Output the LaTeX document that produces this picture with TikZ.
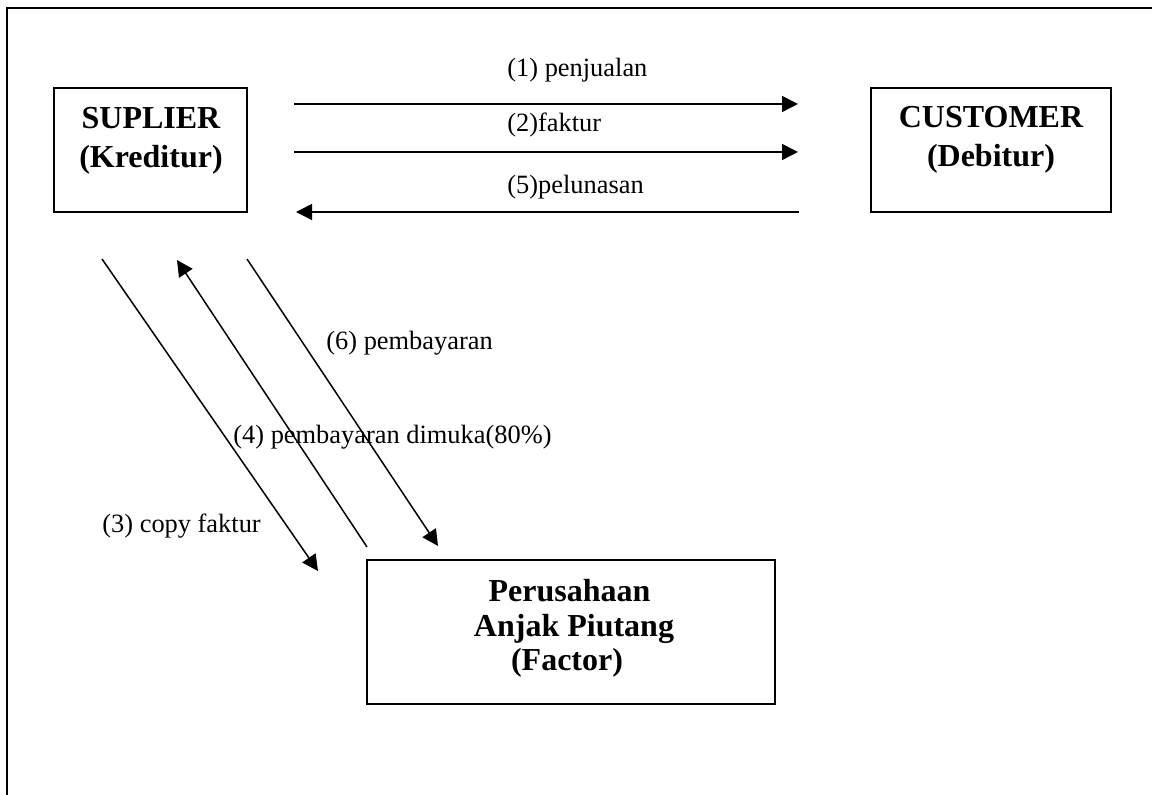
\documentclass[tikz,border=0pt]{standalone}
\usepackage{fontspec}
\setmainfont{Liberation Serif}
\usetikzlibrary{arrows.meta}
\begin{document}
\begin{tikzpicture}[x=0.5pt,y=-0.5pt,
  ebox/.style={draw,line width=1.2pt,inner sep=0pt,outer sep=0pt,rectangle},
  hd/.style={font=\fontsize{16}{19}\selectfont\bfseries,inner sep=0pt,anchor=base},
  lbl/.style={font=\fontsize{13.2}{16}\selectfont,inner sep=0pt,anchor=base west},
  arr/.style={line width=0.75pt,-{Triangle[length=8pt,width=8pt]}}]
\useasboundingbox (0,0) rectangle (1152,795);
% page frame (left and top edges)
\draw[line width=1.2pt] (7,795) -- (7,8) -- (1152,8);
% boxes
\node[ebox,minimum width=96.5pt,minimum height=62pt] (sup) at (150.5,150) {};
\node[ebox,minimum width=120pt,minimum height=62pt] (cus) at (991,150) {};
\node[ebox,minimum width=204pt,minimum height=72pt] (fac) at (571,632) {};
% box texts
\node[hd] (supA) at (151,129) {SUPLIER};
\node[hd] (supB) at (151,168) {(Kreditur)};
\node[hd] (cusA) at (991,128) {CUSTOMER};
\node[hd] (cusB) at (991,167) {(Debitur)};
\node[hd] (facA) at (569.5,602) {Perusahaan};
\node[hd] (facB) at (574,637) {Anjak Piutang};
\node[hd] (facC) at (567,671) {(Factor)};
% arrow end points
\coordinate (h1s) at (294,104); \coordinate (h1e) at (798,104);
\coordinate (h2s) at (294,152); \coordinate (h2e) at (798,152);
\coordinate (h5s) at (799,212); \coordinate (h5e) at (296,212);
\coordinate (d3s) at (102,259); \coordinate (d3e) at (318,571);
\coordinate (d4s) at (367,547); \coordinate (d4e) at (177,260);
\coordinate (d6s) at (247,259); \coordinate (d6e) at (438,546);
% arrows
\draw[arr] (h1s) -- (h1e);
\draw[arr] (h2s) -- (h2e);
\draw[arr] (h5s) -- (h5e);
\draw[arr] (d3s) -- (d3e);
\draw[arr] (d4s) -- (d4e);
\draw[arr] (d6s) -- (d6e);
% labels
\node[lbl] (l1) at (507,77) {(1) penjualan};
\node[lbl] (l2) at (507,132) {(2)faktur};
\node[lbl] (l5) at (507,194) {(5)pelunasan};
\node[lbl] (l6) at (326,350) {(6) pembayaran};
\node[lbl] (l4) at (233,444) {(4) pembayaran dimuka(80\%)};
\node[lbl] (l3) at (102,533) {(3) copy faktur};
\end{tikzpicture}
\end{document}
